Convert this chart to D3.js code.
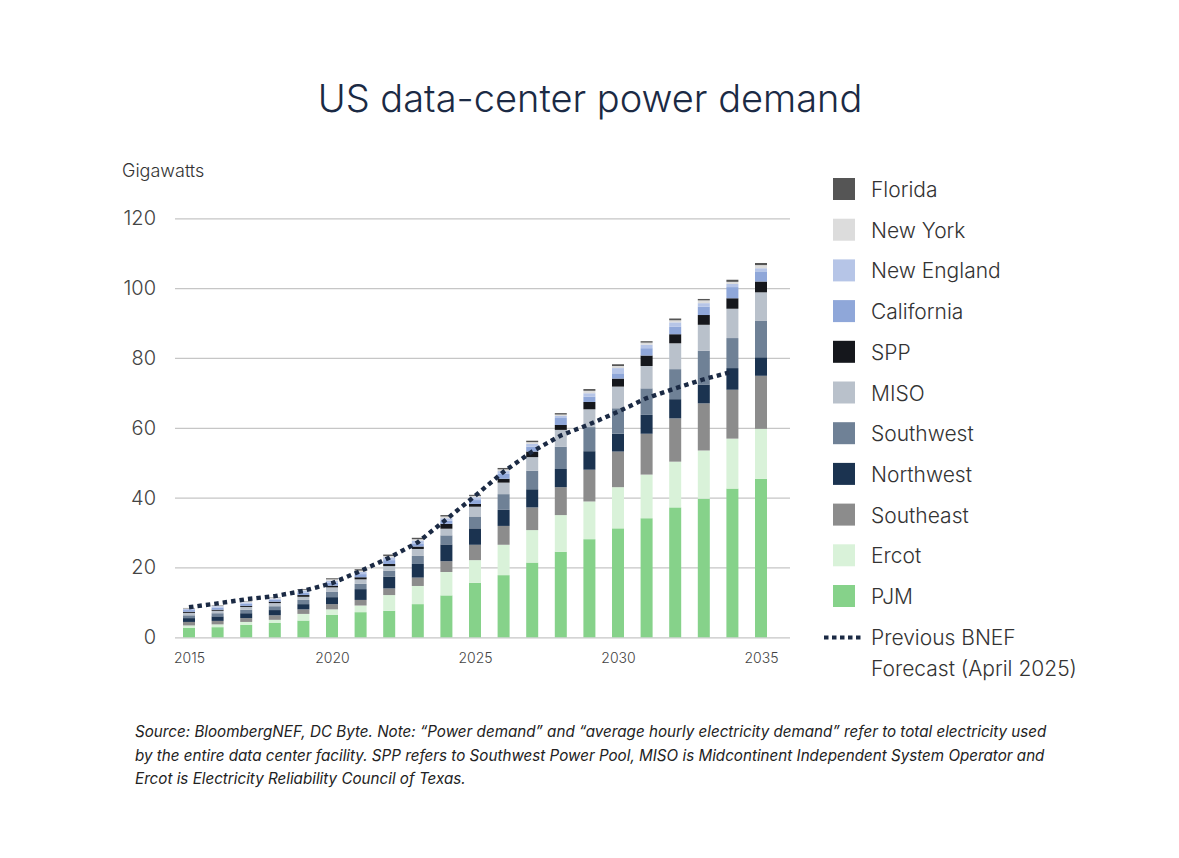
<!DOCTYPE html>
<html><head><meta charset="utf-8">
<script src="https://cdn.jsdelivr.net/npm/d3@7"></script>
<style>
html,body{margin:0;padding:0;background:#ffffff;}
svg{display:block;}
</style></head>
<body>
<svg id="chart" width="1179" height="858"></svg>
<script>
const years = d3.range(2015, 2036);
const seriesNames = ["PJM","Ercot","Southeast","Northwest","Southwest","MISO","SPP","California","New England","New York","Florida"];
const seriesColors = ["#86d28a","#d9f2d9","#8c8c8c","#1b3350","#6f8196","#b9c1cb","#15171c","#8fa7d9","#b6c5e7","#dcdcdc","#555555"];

const PJM        = [2.7,2.9,3.6,4.1,4.8,6.4,7.2,7.6,9.5,12.0,15.6,17.8,21.4,24.5,28.1,31.2,34.1,37.2,39.7,42.6,45.4];
const Ercot      = [0.7,0.8,0.8,0.9,1.9,1.6,1.9,4.5,5.2,6.7,6.5,8.7,9.3,10.5,10.8,11.8,12.5,13.1,13.8,14.3,14.3];
const Southeast  = [1.0,1.0,1.1,1.3,1.3,1.5,1.6,1.9,2.4,3.1,4.4,5.4,6.5,8.0,9.1,10.2,11.7,12.4,13.5,14.0,15.2];
const Northwest  = [1.1,1.3,1.4,1.5,1.5,2.0,3.1,3.4,3.9,4.8,4.7,4.6,5.2,5.2,5.3,5.1,5.4,5.5,5.4,6.2,5.3];
const Southwest  = [0.8,0.9,1.0,1.1,1.2,1.6,1.5,1.7,2.3,2.6,3.4,4.5,5.3,6.4,6.9,7.3,7.6,8.6,9.7,8.6,10.4];
const MISO       = [0.7,0.7,0.8,0.9,0.9,1.2,1.3,1.3,2.0,1.9,2.8,3.3,3.9,4.8,5.1,6.2,6.4,7.4,7.4,8.4,8.2];
const SPP        = [0.3,0.3,0.3,0.4,0.5,0.5,0.6,0.6,0.7,1.4,0.8,1.1,1.6,1.4,2.1,2.3,3.0,2.6,2.8,3.0,3.1];
const California = [0.5,0.6,0.6,0.6,0.7,0.8,0.9,1.1,0.9,0.9,1.1,1.4,1.4,2.0,1.5,1.5,2.1,2.2,2.4,3.2,2.9];
const NewEngland = [0.3,0.4,0.4,0.3,0.6,0.6,0.6,0.8,0.8,0.7,0.8,0.8,0.8,0.6,1.0,1.5,1.0,1.2,1.0,0.9,0.9];
const NewYork    = [0.2,0.2,0.2,0.2,0.2,0.4,0.4,0.4,0.4,0.5,0.4,0.5,0.5,0.4,0.7,0.6,0.6,0.6,0.8,0.6,0.9];
const Florida    = [0.1,0.1,0.1,0.1,0.2,0.3,0.4,0.4,0.4,0.4,0.3,0.4,0.4,0.4,0.5,0.5,0.4,0.5,0.4,0.6,0.6];

const forecastYears = d3.range(2015, 2035);
const forecast = [8.6,9.7,10.9,11.8,13.3,15.5,19.0,22.8,27.2,33.8,40.5,47.4,53.2,57.8,61.0,64.6,68.5,71.3,73.9,76.1];

const yTicks = [0,20,40,60,80,100,120];
const xTickLabels = [2015,2020,2025,2030,2035];
const legendOrder = ["Florida","New York","New England","California","SPP","MISO","Southwest","Northwest","Southeast","Ercot","PJM"];
const footnote = [
  "Source: BloombergNEF, DC Byte. Note: \u201CPower demand\u201D and \u201Caverage hourly electricity demand\u201D refer to total electricity used",
  "by the entire data center facility. SPP refers to Southwest Power Pool, MISO is Midcontinent Independent System Operator and",
  "Ercot is Electricity Reliability Council of Texas."
];

const seriesValues = [PJM,Ercot,Southeast,Northwest,Southwest,MISO,SPP,California,NewEngland,NewYork,Florida];
const table = years.map((yr,i)=>{
  const row = {year:yr};
  seriesNames.forEach((s,j)=>row[s]=seriesValues[j][i]);
  return row;
});

const svg = d3.select("#chart");
const font = "Inter, 'Open Sans', sans-serif";
const x = d3.scaleLinear().domain([2015,2035]).range([189,761]);
const y = d3.scaleLinear().domain([0,120]).range([637.3,218.3]);
const color = d3.scaleOrdinal().domain(seriesNames).range(seriesColors);
const barW = 12;

// title
svg.append("text").attr("x",590).attr("y",112).attr("text-anchor","middle")
  .attr("font-family",font).attr("font-weight",300).attr("font-size",38)
  .attr("fill","#1b2a44").text("US data-center power demand");

svg.append("text").attr("x",122).attr("y",177)
  .attr("font-family",font).attr("font-weight",300).attr("font-size",18)
  .attr("fill","#333").text("Gigawatts");

// grid
const gy = svg.append("g").attr("transform","translate(790,0)");
gy.call(d3.axisLeft(y).tickValues(yTicks).tickSize(615).tickFormat(""));
gy.select(".domain").remove();
gy.selectAll(".tick line").attr("stroke","#c6c6c6").attr("stroke-width",1.3);

svg.append("g").selectAll("text").data(yTicks).join("text")
  .attr("x",156).attr("y",d=>y(d)+7).attr("text-anchor","end")
  .attr("font-family",font).attr("font-weight",300).attr("font-size",20)
  .attr("fill","#444").text(d=>d);

// bars
const stack = d3.stack().keys(seriesNames)(table);
svg.append("g").selectAll("g").data(stack).join("g")
  .attr("fill",d=>color(d.key))
  .selectAll("rect").data(d=>d).join("rect")
  .attr("x",d=>x(d.data.year)-barW/2)
  .attr("y",d=>y(d[1]))
  .attr("width",barW)
  .attr("height",d=>y(d[0])-y(d[1]));

// x axis labels
const gx = svg.append("g").attr("transform","translate(0,637.3)");
gx.call(d3.axisBottom(x).tickValues(xTickLabels).tickSize(0).tickPadding(16).tickFormat(d3.format("d")));
gx.select(".domain").remove();
gx.selectAll("text").attr("font-family",font).attr("font-weight",300).attr("font-size",14).attr("fill","#444");

// forecast line
const line = d3.line().x((d,i)=>x(forecastYears[i])).y(d=>y(d));
svg.append("path").datum(forecast).attr("d",line)
  .attr("fill","none").attr("stroke","#1b2a44").attr("stroke-width",4.4)
  .attr("stroke-dasharray","4.5,4");

// legend
const lg = svg.append("g");
const ly = d3.scaleLinear().domain([0,10]).range([189,596]);
legendOrder.forEach((name,i)=>{
  lg.append("rect").attr("x",833).attr("y",ly(i)-11).attr("width",22).attr("height",22).attr("fill",color(name));
  lg.append("text").attr("x",871).attr("y",ly(i)+8).attr("font-family",font).attr("font-weight",300)
    .attr("font-size",21).attr("fill","#333").text(name);
});
lg.append("line").attr("x1",824).attr("x2",861).attr("y1",637.5).attr("y2",637.5)
  .attr("stroke","#1b2a44").attr("stroke-width",4.2).attr("stroke-dasharray","4.5,3.5");
lg.append("text").attr("x",871).attr("y",645).attr("font-family",font).attr("font-weight",300)
  .attr("font-size",21).attr("fill","#333").text("Previous BNEF");
lg.append("text").attr("x",871).attr("y",676).attr("font-family",font).attr("font-weight",300)
  .attr("font-size",21).attr("fill","#333").text("Forecast (April 2025)");

// footnote
svg.append("g").selectAll("text").data(footnote).join("text")
  .attr("x",135).attr("y",(d,i)=>737+i*23.5)
  .attr("font-family",font).attr("font-style","italic").attr("font-size",15.2)
  .attr("fill","#222").text(d=>d);
</script>
</body></html>
